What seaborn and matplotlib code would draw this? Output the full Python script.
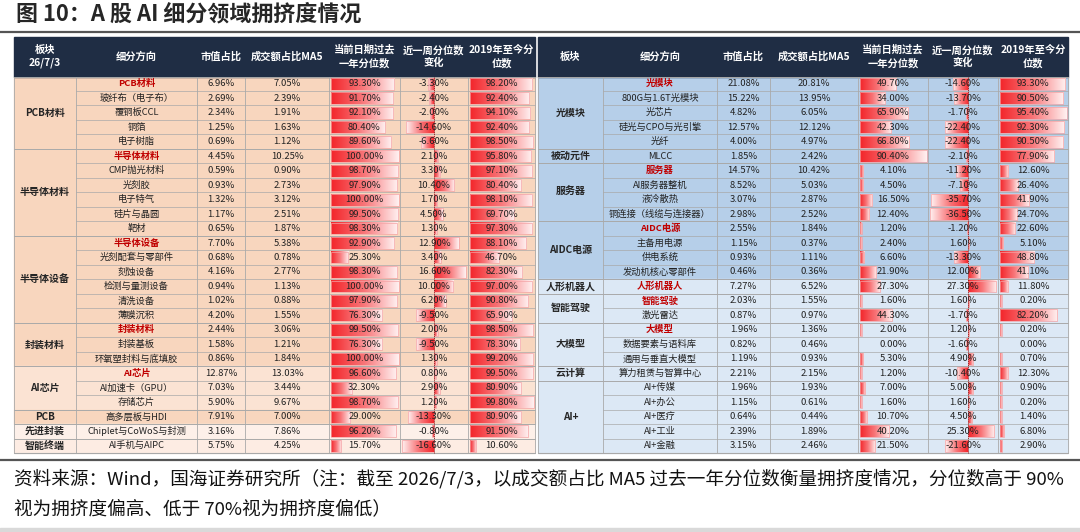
import numpy as np
import matplotlib
matplotlib.use("Agg")
import matplotlib.pyplot as plt
from matplotlib.patches import Rectangle
import seaborn as sns

sns.set_theme(style="white")
plt.rcParams['font.family'] = ['Noto Sans CJK SC', 'DejaVu Sans']

# ---------------- data ----------------
title = "图 10：A 股 AI 细分领域拥挤度情况"
note_1 = "资料来源：Wind，国海证券研究所（注：截至 2026/7/3，以成交额占比 MA5 过去一年分位数衡量拥挤度情况，分位数高于 90%"
note_2 = "视为拥挤度偏高、低于 70%视为拥挤度偏低）"

headers_left = ["板块\n26/7/3", "细分方向", "市值占比", "成交额占比MA5",
                "当前日期过去\n一年分位数", "近一周分位数\n变化", "2019年至今分\n位数"]
headers_right = ["板块"] + headers_left[1:]

left_groups = ["PCB材料", "半导体材料", "半导体设备", "封装材料", "AI芯片", "PCB", "先进封装", "智能终端"]
left_group_sizes = [5, 6, 6, 3, 3, 1, 1, 1]
left_names = ["PCB材料", "玻纤布（电子布）", "覆铜板CCL", "铜箔", "电子树脂",
              "半导体材料", "CMP抛光材料", "光刻胶", "电子特气", "硅片与晶圆", "靶材",
              "半导体设备", "光刻配套与零部件", "刻蚀设备", "检测与量测设备", "清洗设备", "薄膜沉积",
              "封装材料", "封装基板", "环氧塑封料与底填胶",
              "AI芯片", "AI加速卡（GPU）", "存储芯片",
              "高多层板与HDI", "Chiplet与CoWoS与封测", "AI手机与AIPC"]
left_red = ["PCB材料", "半导体材料", "半导体设备", "封装材料", "AI芯片"]
left_mv = [6.96, 2.69, 2.34, 1.25, 0.69, 4.45, 0.59, 0.93, 1.32, 1.17, 0.65, 7.70, 0.68,
           4.16, 0.94, 1.02, 4.20, 2.44, 1.58, 0.86, 12.87, 7.03, 5.90, 7.91, 3.16, 5.75]
left_to = [7.05, 2.39, 1.91, 1.63, 1.12, 10.25, 0.90, 2.73, 3.12, 2.51, 1.87, 5.38, 0.78,
           2.77, 1.13, 0.88, 1.55, 3.06, 1.21, 1.84, 13.03, 3.44, 9.67, 7.00, 7.86, 4.25]
left_p1y = [93.3, 91.7, 92.1, 80.4, 89.6, 100.0, 98.7, 97.9, 100.0, 99.5, 98.3, 92.9, 25.3,
            98.3, 100.0, 97.9, 76.3, 99.5, 76.3, 100.0, 96.6, 32.3, 98.7, 29.0, 96.2, 15.7]
left_wk = [-3.3, -2.4, -2.0, -14.6, -6.6, 2.1, 3.3, 10.4, 1.7, 4.5, 1.3, 12.9, 3.4,
           16.6, 10.0, 6.2, -9.5, 2.0, -9.5, 1.3, 0.8, 2.9, 1.2, -13.3, -0.8, -16.6]
left_p19 = [98.2, 92.4, 94.1, 92.4, 98.5, 95.8, 97.1, 80.4, 98.1, 69.7, 97.3, 88.1, 46.7,
            82.3, 97.0, 90.8, 65.9, 98.5, 78.3, 99.2, 99.5, 80.9, 99.8, 80.9, 91.5, 10.6]

right_groups = ["光模块", "被动元件", "服务器", "AIDC电源", "人形机器人", "智能驾驶", "大模型", "云计算", "AI+"]
right_group_sizes = [5, 1, 4, 4, 1, 2, 3, 1, 5]
right_names = ["光模块", "800G与1.6T光模块", "光芯片", "硅光与CPO与光引擎", "光纤",
               "MLCC",
               "服务器", "AI服务器整机", "液冷散热", "铜连接（线缆与连接器）",
               "AIDC电源", "主备用电源", "供电系统", "发动机核心零部件",
               "人形机器人",
               "智能驾驶", "激光雷达",
               "大模型", "数据要素与语料库", "通用与垂直大模型",
               "算力租赁与智算中心",
               "AI+传媒", "AI+办公", "AI+医疗", "AI+工业", "AI+金融"]
right_red = ["光模块", "服务器", "AIDC电源", "人形机器人", "智能驾驶", "大模型"]
right_mv = [21.08, 15.22, 4.82, 12.57, 4.00, 1.85, 14.57, 8.52, 3.07, 2.98, 2.55, 1.15, 0.93,
            0.46, 7.27, 2.03, 0.87, 1.96, 0.82, 1.19, 2.21, 1.96, 1.15, 0.64, 2.39, 3.15]
right_to = [20.81, 13.95, 6.05, 12.12, 4.97, 2.42, 10.42, 5.03, 2.87, 2.52, 1.84, 0.37, 1.11,
            0.36, 6.52, 1.55, 0.97, 1.36, 0.46, 0.93, 2.15, 1.93, 0.61, 0.44, 1.89, 2.46]
right_p1y = [49.7, 34.0, 65.9, 42.3, 66.8, 90.4, 4.1, 4.5, 16.5, 12.4, 1.2, 2.4, 6.6,
             21.9, 27.3, 1.6, 44.3, 2.0, 0.0, 5.3, 1.2, 7.0, 1.6, 10.7, 40.2, 21.5]
right_wk = [-14.6, -13.7, -1.7, -22.4, -22.4, -2.1, -11.2, -7.1, -35.7, -36.5, -1.2, 1.6, -13.3,
            12.0, 27.3, 1.6, -1.7, 1.2, -1.6, 4.9, -10.4, 5.0, 1.6, 4.5, 25.3, -21.6]
right_p19 = [93.3, 90.5, 95.4, 92.3, 90.5, 77.9, 12.6, 26.4, 41.9, 24.7, 22.6, 5.1, 48.8,
             41.1, 11.8, 0.2, 82.2, 0.2, 0.0, 0.7, 12.3, 0.9, 0.2, 1.4, 6.8, 2.9]

# ---------------- layout / style ----------------
HEADER_BG = "#1F2D44"
LINE = "#A9A9A9"
RED_TXT = "#C00000"
bar_cmap = sns.blend_palette(["#F3262B", "#F8777A", "#FFF0F0"], as_cmap=True)

left_x = [14, 76, 197, 245, 329, 400, 468, 535]
right_x = [538, 603, 717, 770, 858, 928, 998, 1068]
left_bg = ["#F8D6BE", "#F8D6BE", "#F8D6BE", "#F8D6BE", "#FBE3D3", "#F8D6BE", "#FDF0E9", "#FDECE3"]
right_bg = ["#B6CFE9"] * 4 + ["#DCE8F5"] * 5

y_head, y_top, y_bot = 37, 76.5, 453.0

fig = plt.figure(figsize=(10.8, 5.32), dpi=100)
ax = fig.add_axes([0, 0, 1, 1])


def gradient_bar(x0, x1, yc, h, reverse=False):
    if x1 - x0 <= 0:
        return
    g = np.linspace(0, 1, 64).reshape(1, -1)
    if reverse:
        g = g[:, ::-1]
    ax.imshow(g, extent=(x0, x1, yc + h / 2, yc - h / 2), cmap=bar_cmap, vmin=0, vmax=1,
              aspect='auto', interpolation='bilinear', zorder=2)
    ax.add_patch(Rectangle((x0, yc - h / 2), x1 - x0, h, fill=False, ec="#F4A3A5", lw=0.5, zorder=3))


def draw_table(xs, headers, groups, sizes, names, red, mv, to, p1y, wk, p19, bgs):
    n = len(names)
    rh = (y_bot - y_top) / n
    # header
    ax.add_patch(Rectangle((xs[0], y_head), xs[-1] - xs[0], y_top - y_head, color=HEADER_BG, zorder=1))
    for i, h in enumerate(headers):
        ax.text((xs[i] + xs[i + 1]) / 2, (y_head + y_top) / 2, h, color="white", fontsize=7.4,
                fontweight="bold", ha="center", va="center", linespacing=1.35, zorder=4)
    # group backgrounds and labels
    row = 0
    for g, s, bg in zip(groups, sizes, bgs):
        y0 = y_top + row * rh
        ax.add_patch(Rectangle((xs[0], y0), xs[-1] - xs[0], s * rh, color=bg, zorder=0.5))
        ax.text((xs[0] + xs[1]) / 2, y0 + s * rh / 2, g, fontsize=7.2, fontweight="bold",
                ha="center", va="center", zorder=4)
        ax.plot([xs[0], xs[-1]], [y0, y0], color=LINE, lw=0.7, zorder=3)
        for k in range(1, s):
            yk = y0 + k * rh
            ax.plot([xs[1], xs[-1]], [yk, yk], color=LINE, lw=0.5, zorder=3)
        row += s
    ax.plot([xs[0], xs[-1]], [y_bot, y_bot], color=LINE, lw=0.8, zorder=3)
    for x in xs:
        ax.plot([x, x], [y_top, y_bot], color=LINE, lw=0.6, zorder=3)

    p1_max, p19_max = max(p1y), max(p19)
    wk_min, wk_max = min(wk), max(wk)
    wx0, wx1 = xs[5], xs[6]
    wscale = (wx1 - wx0 - 4) / (wk_max - wk_min)
    axis_x = wx0 + 2 + (-wk_min) * wscale

    for i in range(n):
        yc = y_top + (i + 0.5) * rh
        bh = rh - 2.6
        is_red = names[i] in red
        ax.text((xs[1] + xs[2]) / 2, yc, names[i], fontsize=6.7, ha="center", va="center",
                color=RED_TXT if is_red else "#222222", fontweight="bold" if is_red else "normal", zorder=4)
        ax.text((xs[2] + xs[3]) / 2, yc, f"{mv[i]:.2f}%", fontsize=6.8, ha="center", va="center", color="#222222", zorder=4)
        ax.text((xs[3] + xs[4]) / 2, yc, f"{to[i]:.2f}%", fontsize=6.8, ha="center", va="center", color="#222222", zorder=4)
        # percentile bars
        for col, vals, vmax in [(4, p1y, p1_max), (6, p19, p19_max)]:
            w = xs[col + 1] - xs[col] - 3
            length = vals[i] / vmax * w
            if vals[i] > 0:
                length = max(length, 2)
                gradient_bar(xs[col] + 1.5, xs[col] + 1.5 + length, yc, bh)
            ax.text((xs[col] + xs[col + 1]) / 2, yc, f"{vals[i]:.2f}%", fontsize=6.8,
                    ha="center", va="center", color="#222222", zorder=4)
        # weekly change bars around axis
        if wk[i] >= 0:
            gradient_bar(axis_x, axis_x + wk[i] * wscale, yc, bh)
        else:
            gradient_bar(axis_x + wk[i] * wscale, axis_x, yc, bh, reverse=True)
        ax.text((wx0 + wx1) / 2, yc, f"{wk[i]:.2f}%", fontsize=6.8, ha="center", va="center",
                color="#222222", zorder=4)
    ax.plot([axis_x, axis_x], [y_top, y_bot], color="#8B1A1A", lw=0.6, ls=(0, (1.5, 1)), zorder=3.5)


draw_table(left_x, headers_left, left_groups, left_group_sizes, left_names, left_red,
           left_mv, left_to, left_p1y, left_wk, left_p19, left_bg)
draw_table(right_x, headers_right, right_groups, right_group_sizes, right_names, right_red,
           right_mv, right_to, right_p1y, right_wk, right_p19, right_bg)

# title, rules, note
ax.text(16, 14, title, fontsize=15.8, fontweight="bold", ha="left", va="center")
ax.plot([0, 1080], [32, 32], color="#555555", lw=1.6)
ax.plot([0, 1080], [460, 460], color="#555555", lw=1.6)
ax.text(14, 479, note_1, fontsize=13.4, ha="left", va="center", color="#111111")
ax.text(14, 509, note_2, fontsize=13.4, ha="left", va="center", color="#111111")
ax.add_patch(Rectangle((0, 528), 1080, 4, color="#D9D9D9"))

ax.set_xlim(0, 1080)
ax.set_ylim(532, 0)
ax.axis("off")
fig.savefig("out.png", dpi=100)
